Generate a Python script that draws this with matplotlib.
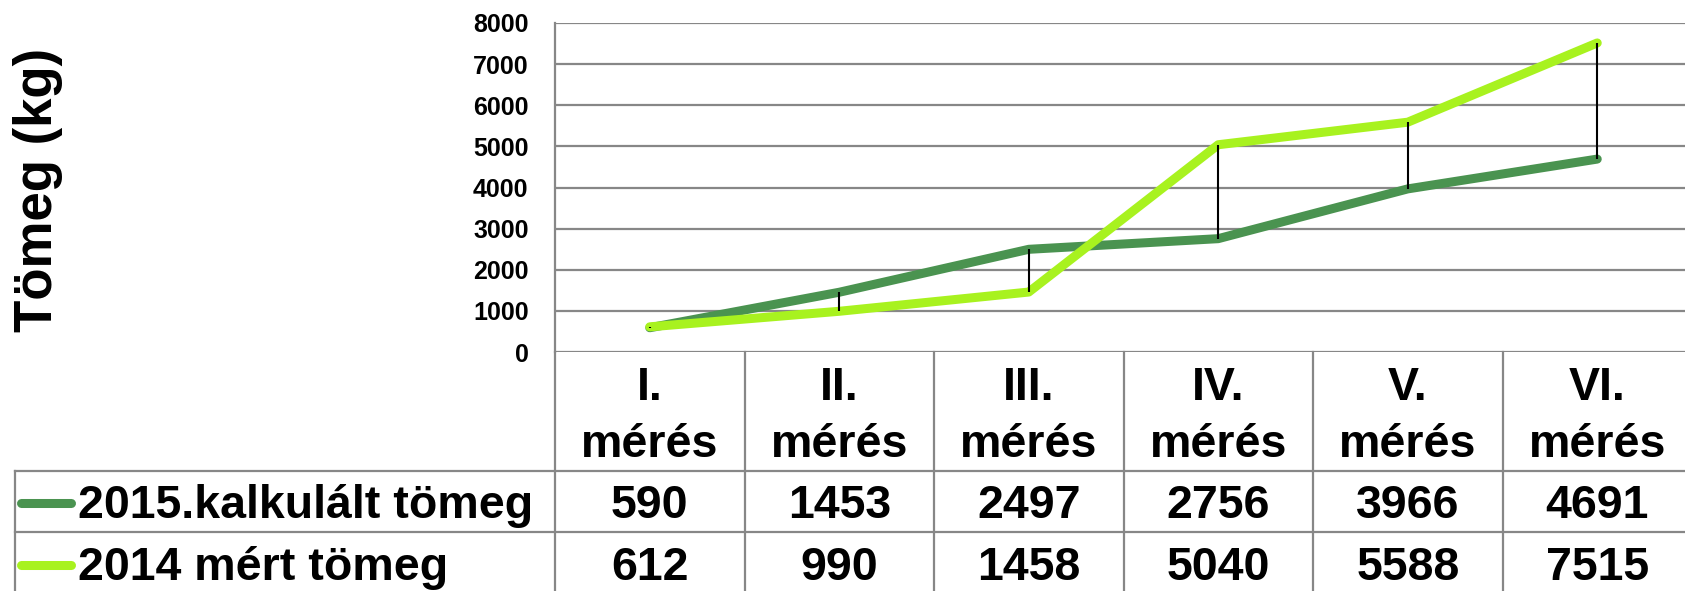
import numpy as np
import matplotlib
matplotlib.use("Agg")
import matplotlib.pyplot as plt
from matplotlib.transforms import blended_transform_factory

# data
categories = ["I.", "II.", "III.", "IV.", "V.", "VI."]
cat_word = "mérés"
series_names = ["2015.kalkulált tömeg", "2014 mért tömeg"]
calc_2015 = [590, 1453, 2497, 2756, 3966, 4691]
meas_2014 = [612, 990, 1458, 5040, 5588, 7515]
yticks = [0, 1000, 2000, 3000, 4000, 5000, 6000, 7000, 8000]
ylabel = "Tömeg (kg)"

DARK = "#4A9350"
LIGHT = "#A8F21F"
GRID = "#878787"

plt.rcParams["font.family"] = ["Liberation Sans", "DejaVu Sans"]
plt.rcParams["font.weight"] = "bold"
FS = 33.5

W, H = 1685, 591
fx = lambda p: p / W
fy = lambda p: 1 - p / H

fig = plt.figure(figsize=(W / 100, H / 100), dpi=100)
# plot area: last table column runs past the right edge, as in the original
ax = fig.add_axes([fx(555), fy(352), fx(1692) - fx(555), fy(23) - fy(352)])
x = np.arange(len(categories))
ax.set_xlim(-0.5, len(categories) - 0.5)
ax.set_ylim(0, 8000)
ax.set_yticks(yticks)
ax.set_xticks([])
ax.yaxis.grid(True, color=GRID, lw=1.6)
ax.set_axisbelow(True)
for s in ["top", "right", "bottom"]:
    ax.spines[s].set_visible(False)
ax.spines["left"].set_color(GRID); ax.spines["left"].set_linewidth(1.6)
ax.tick_params(axis="y", length=0, pad=19, labelsize=18)

# high-low lines between the two series
ax.vlines(x, np.minimum(calc_2015, meas_2014), np.maximum(calc_2015, meas_2014),
          color="black", lw=1.5, zorder=5)
ax.plot(x, calc_2015, color=DARK, lw=6.5, solid_capstyle="round", solid_joinstyle="round", zorder=3)
ax.plot(x, meas_2014, color=LIGHT, lw=6.5, solid_capstyle="round", solid_joinstyle="round", zorder=4)

fig.text(fx(38), fy(190), ylabel, rotation=90, fontsize=38, fontweight="bold",
         ha="center", va="center")

# data table under the plot
tr = blended_transform_factory(ax.transData, fig.transFigure)
kw = dict(transform=tr, ha="center", va="baseline", fontsize=FS, clip_on=False)
for i, c in enumerate(categories):
    ax.text(i, fy(400), c, **kw)
    ax.text(i, fy(457), cat_word, **kw)
    ax.text(i, fy(518), str(calc_2015[i]), **kw)
    ax.text(i, fy(580), str(meas_2014[i]), **kw)
for b in np.arange(len(categories) + 1) - 0.5:
    ax.plot([b, b], [fy(352), fy(591)], transform=tr, color=GRID, lw=1.6, clip_on=False)
for yy in [471, 532]:
    fig.add_artist(plt.Line2D([fx(15), 1], [fy(yy), fy(yy)], color=GRID, lw=1.6))
fig.add_artist(plt.Line2D([fx(15), fx(15)], [fy(471), fy(591)], color=GRID, lw=1.6))

# legend keys inside the table
for name, col, base in zip(series_names, [DARK, LIGHT], [518, 580]):
    fig.add_artist(plt.Line2D([fx(21), fx(71)], [fy(base - 15), fy(base - 15)], color=col,
                              lw=6.5, solid_capstyle="round"))
    fig.text(fx(78), fy(base), name, ha="left", va="baseline", fontsize=FS)

fig.savefig("out.png", dpi=100)
